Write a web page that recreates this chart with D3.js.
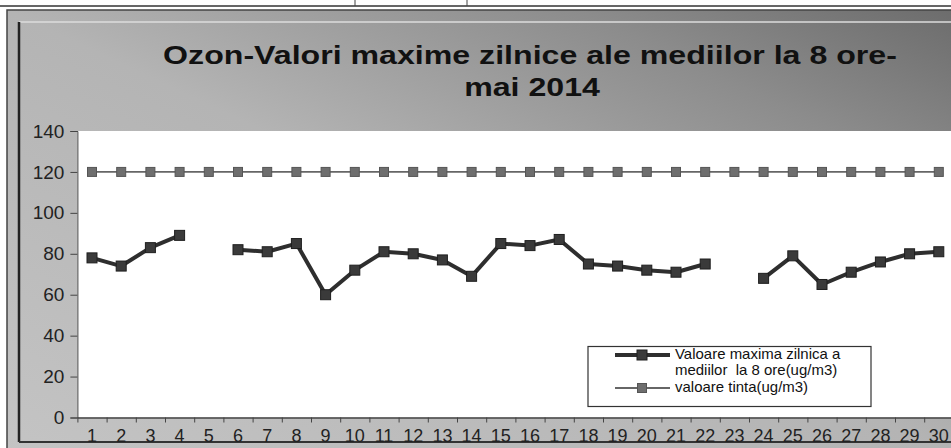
<!DOCTYPE html>
<html lang="ro">
<head>
  <meta charset="UTF-8">
  <title>Ozon - mai 2014</title>
  <script src="https://cdn.jsdelivr.net/npm/d3@7"></script>
  <style>
    body { margin: 0; background: #fff; }
    svg { display: block; font-family: "Liberation Sans", Arial, sans-serif; }
    .axis text { font-size: 18px; fill: #222; }
    .axis.y text { font-size: 19px; }
    .axis path, .axis line { stroke: #444; }
  </style>
</head>
<body>
  <div id="chart"></div>
  <script>
    // data (ug/m3), null = missing day
    const days = d3.range(1, 31).map(String);
    const maxValues = [78, 74, 83, 89, null, 82, 81, 85, 60, 72, 81, 80, 77, 69, 85, 84, 87, 75, 74, 72,
                       71, 75, null, 68, 79, 65, 71, 76, 80, 81];
    const targetValues = [120, 120, 120, 120, 120, 120, 120, 120, 120, 120, 120, 120, 120, 120, 120,
                          120, 120, 120, 120, 120, 120, 120, 120, 120, 120, 120, 120, 120, 120, 120];
    const yTicks = [0, 20, 40, 60, 80, 100, 120, 140];
    const titleLines = ["Ozon-Valori maxime zilnice ale mediilor la 8 ore-", "mai 2014"];
    const legendLabels = [["Valoare maxima zilnica a", "mediilor  la 8 ore(ug/m3)"], ["valoare tinta(ug/m3)"]];

    const w = 951, h = 448;
    const plot = { left: 77.4, right: 953.4, top: 131, bottom: 417.5 };

    const svg = d3.select("#chart").append("svg")
      .attr("width", w).attr("height", h);

    const defs = svg.append("defs");
    const grad = defs.append("linearGradient").attr("id", "bg")
      .attr("x1", 0).attr("y1", 1).attr("x2", 1).attr("y2", 0);
    grad.append("stop").attr("offset", 0).attr("stop-color", "#c4c4c4");
    grad.append("stop").attr("offset", 0.5).attr("stop-color", "#b4b4b4");
    grad.append("stop").attr("offset", 0.8).attr("stop-color", "#8c8c8c");
    grad.append("stop").attr("offset", 1).attr("stop-color", "#6c6c6c");

    // scanned page strip on top
    svg.append("line").attr("x1", 0).attr("x2", w).attr("y1", 6).attr("y2", 6)
      .attr("stroke", "#333").attr("stroke-width", 1.5);
    [355, 467].forEach(x => svg.append("line").attr("x1", x).attr("x2", x).attr("y1", 0).attr("y2", 6)
      .attr("stroke", "#444"));

    // chart area
    svg.append("rect").attr("x", 7).attr("y", 10).attr("width", w).attr("height", h)
      .attr("fill", "url(#bg)").attr("stroke", "#444").attr("stroke-width", 1.5);
    svg.append("line").attr("x1", 19).attr("x2", w).attr("y1", 22).attr("y2", 22)
      .attr("stroke", "#ddd").attr("stroke-width", 1.5);
    svg.append("line").attr("x1", 19).attr("x2", 19).attr("y1", 22).attr("y2", 442)
      .attr("stroke", "#222").attr("stroke-width", 2.5);
    svg.append("line").attr("x1", 19).attr("x2", w).attr("y1", 442).attr("y2", 442)
      .attr("stroke", "#333").attr("stroke-width", 2);

    svg.append("rect")
      .attr("x", plot.left).attr("y", plot.top)
      .attr("width", plot.right - plot.left).attr("height", plot.bottom - plot.top)
      .attr("fill", "#fff");

    // title
    const title = svg.append("g").attr("font-weight", "bold").attr("font-size", 26).attr("fill", "#111");
    const t1 = title.append("text").attr("text-anchor", "middle").text(titleLines[0]);
    const k = 734 / t1.node().getComputedTextLength();
    t1.attr("transform", `translate(530,64) scale(${k},1)`);
    title.append("text").attr("text-anchor", "middle").text(titleLines[1])
      .attr("transform", `translate(532,96) scale(${k},1)`);

    const x = d3.scaleBand().domain(days).range([plot.left, plot.right]);
    const xc = d => x(d) + x.bandwidth() / 2;
    const xEdge = d3.scaleLinear().domain([0, days.length]).range([plot.left, plot.right]);
    const y = d3.scaleLinear().domain([0, 140]).range([plot.bottom, plot.top]);

    svg.append("g").attr("class", "axis y")
      .attr("transform", `translate(${plot.left},0)`)
      .call(d3.axisLeft(y).tickValues(yTicks).tickSize(7).tickPadding(6));

    svg.append("g").attr("class", "axis")
      .attr("transform", `translate(0,${plot.bottom})`)
      .call(d3.axisBottom(xEdge).ticks(30).tickSize(5).tickFormat(""))
      .call(g => g.select(".domain").remove());
    svg.append("g").attr("class", "axis")
      .attr("transform", `translate(0,${plot.bottom})`)
      .call(d3.axisBottom(x).tickSize(0).tickPadding(12))
      .call(g => g.select(".domain").attr("stroke", "#555").attr("stroke-width", 1.5));

    const line = d3.line().defined(d => d[1] != null).x(d => xc(d[0])).y(d => y(d[1]));

    const series = [
      { values: targetValues, stroke: "#666", width: 1.8, size: 9, fill: "#6e6e6e", ms: "#555" },
      { values: maxValues, stroke: "#2e2e2e", width: 4, size: 10, fill: "#3a3a3a", ms: "#1e1e1e" }
    ];

    series.forEach(s => {
      const pts = days.map((d, i) => [d, s.values[i]]);
      svg.append("path").datum(pts)
        .attr("fill", "none").attr("stroke", s.stroke).attr("stroke-width", s.width)
        .attr("stroke-linejoin", "round").attr("d", line);
      svg.append("g").selectAll("rect")
        .data(pts.filter(p => p[1] != null))
        .join("rect")
        .attr("x", p => xc(p[0]) - s.size / 2)
        .attr("y", p => y(p[1]) - s.size / 2)
        .attr("width", s.size).attr("height", s.size)
        .attr("fill", s.fill).attr("stroke", s.ms).attr("stroke-width", 1);
    });

    // legend
    const lg = svg.append("g").attr("font-size", 14).attr("fill", "#111");
    lg.append("rect").attr("x", 588).attr("y", 346.5).attr("width", 283).attr("height", 60)
      .attr("fill", "#fff").attr("stroke", "#333").attr("stroke-width", 1.2);
    const legendRows = [
      { s: series[1], ly: 355, texts: legendLabels[0], ty: [358.5, 375] },
      { s: series[0], ly: 388, texts: legendLabels[1], ty: [391.5] }
    ];
    legendRows.forEach(r => {
      lg.append("line").attr("x1", 615).attr("x2", 670).attr("y1", r.ly).attr("y2", r.ly)
        .attr("stroke", r.s.stroke).attr("stroke-width", r.s.width);
      lg.append("rect").attr("x", 642 - r.s.size / 2).attr("y", r.ly - r.s.size / 2)
        .attr("width", r.s.size).attr("height", r.s.size)
        .attr("fill", r.s.fill).attr("stroke", r.s.ms);
      r.texts.forEach((t, i) => lg.append("text")
        .attr("transform", `translate(675,${r.ty[i]}) scale(1.07,1)`)
        .attr("xml:space", "preserve").text(t));
    });
  </script>
</body>
</html>
